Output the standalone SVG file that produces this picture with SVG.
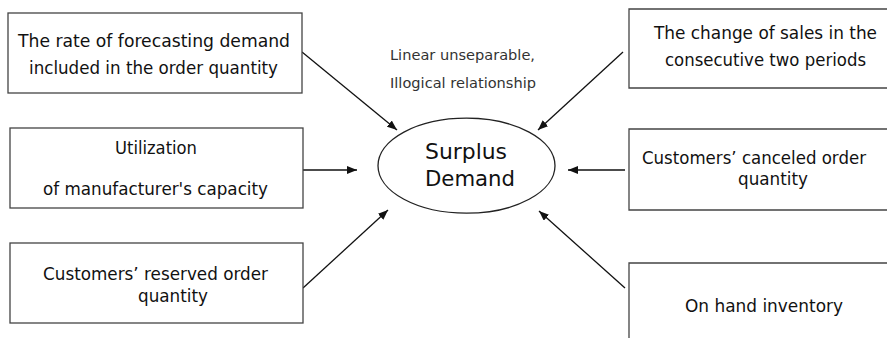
<svg xmlns="http://www.w3.org/2000/svg" width="887" height="338" viewBox="0 0 887 338">
<style>
.box{fill:#fff;stroke:#444;stroke-width:1.3}
.t{font-family:"DejaVu Sans","Verdana",sans-serif;font-size:18.5px;fill:#111}
.c{font-family:"DejaVu Sans","Verdana",sans-serif;font-size:22px;fill:#111}
.n{font-family:"DejaVu Sans","Verdana",sans-serif;font-size:14.5px;fill:#333}
.ln{stroke:#111;stroke-width:1.3;fill:none;marker-end:url(#ah)}
</style>
<defs>
<marker id="ah" markerUnits="userSpaceOnUse" markerWidth="11" markerHeight="8" refX="10" refY="4" orient="auto">
<path d="M0,0 L10,4 L0,8 z" fill="#111"/>
</marker>
</defs>
<rect width="887" height="338" fill="#fff"/>
<g id="connectors">
<line class="ln" x1="302" y1="52" x2="397" y2="130"/>
<line class="ln" x1="623" y1="52" x2="538" y2="130"/>
<line class="ln" x1="303" y1="170" x2="357" y2="170"/>
<line class="ln" x1="625" y1="170" x2="568" y2="170"/>
<line class="ln" x1="303" y1="288" x2="388" y2="210"/>
<line class="ln" x1="625" y1="288" x2="539" y2="211"/>
</g>
<g id="note">
<text class="n" x="390" y="60" textLength="145" lengthAdjust="spacingAndGlyphs">Linear unseparable,</text>
<text class="n" x="390" y="88" textLength="146" lengthAdjust="spacingAndGlyphs">Illogical relationship</text>
</g>
<g id="surplus">
<ellipse cx="466.5" cy="165.7" rx="88.5" ry="47.5" fill="#fff" stroke="#222" stroke-width="1.3"/>
<text class="c" x="425" y="158.5" textLength="82" lengthAdjust="spacingAndGlyphs">Surplus</text>
<text class="c" x="425" y="185.5" textLength="90" lengthAdjust="spacingAndGlyphs">Demand</text>
</g>
<g id="forecast">
<rect class="box" x="8" y="13" width="294" height="80"/>
<text class="t" x="18" y="46.7" textLength="272" lengthAdjust="spacingAndGlyphs">The rate of forecasting demand</text>
<text class="t" x="29" y="74.3" textLength="249" lengthAdjust="spacingAndGlyphs">included in the order quantity</text>
</g>
<g id="sales-change">
<path class="box" d="M887,9 H629 V88 H887"/>
<text class="t" x="654" y="39.3" textLength="223" lengthAdjust="spacingAndGlyphs">The change of sales in the</text>
<text class="t" x="665" y="66" textLength="201" lengthAdjust="spacingAndGlyphs">consecutive two periods</text>
</g>
<g id="utilization">
<rect class="box" x="10" y="128" width="293" height="80"/>
<text class="t" x="115" y="154" textLength="82" lengthAdjust="spacingAndGlyphs">Utilization</text>
<text class="t" x="43" y="195" textLength="225" lengthAdjust="spacingAndGlyphs">of manufacturer's capacity</text>
</g>
<g id="canceled">
<path class="box" d="M887,129 H629 V210 H887"/>
<text class="t" x="642" y="164" textLength="224" lengthAdjust="spacingAndGlyphs">Customers’ canceled order</text>
<text class="t" x="738" y="185" textLength="70" lengthAdjust="spacingAndGlyphs">quantity</text>
</g>
<g id="reserved">
<rect class="box" x="10" y="243" width="293" height="80"/>
<text class="t" x="43" y="280" textLength="225" lengthAdjust="spacingAndGlyphs">Customers’ reserved order</text>
<text class="t" x="138" y="302" textLength="70" lengthAdjust="spacingAndGlyphs">quantity</text>
</g>
<g id="inventory">
<path class="box" d="M887,263 H629 V338"/>
<text class="t" x="685" y="311.7" textLength="158" lengthAdjust="spacingAndGlyphs">On hand inventory</text>
</g>
</svg>
